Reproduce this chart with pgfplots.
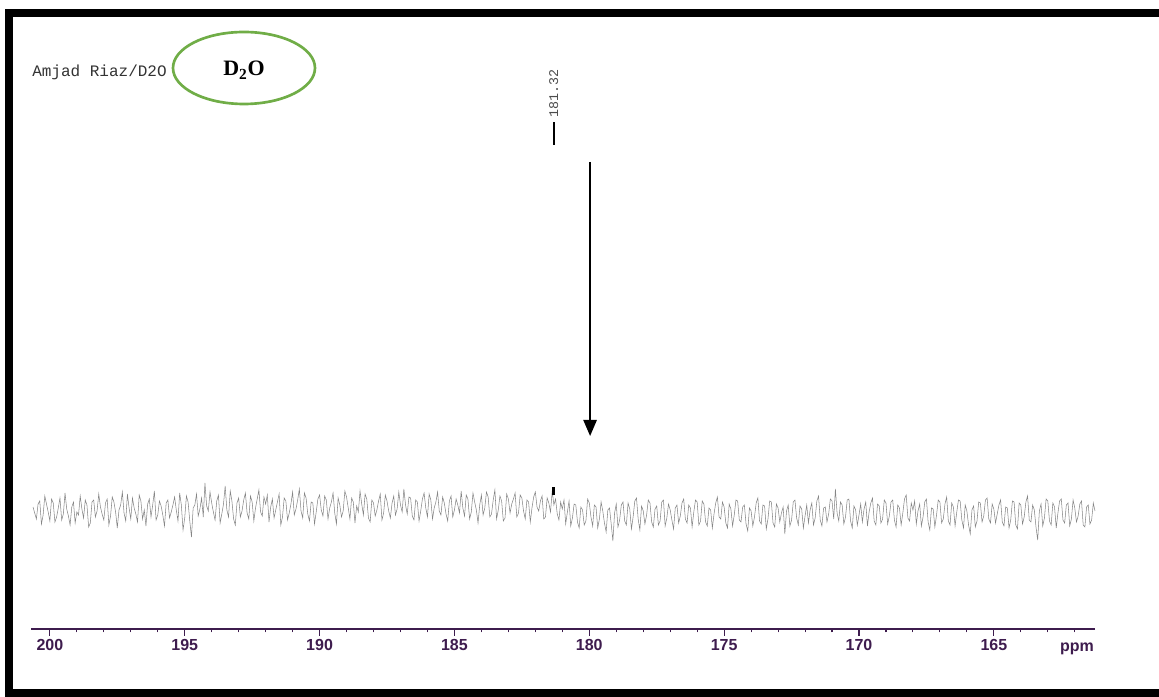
\documentclass[border=0pt]{standalone}
\usepackage{pgfplots}
\pgfplotsset{compat=1.18}
\usepackage{pgfplotstable}
\usetikzlibrary{arrows.meta}
\usepackage{fontspec}
\setmainfont{Liberation Serif}
\newfontfamily\arialf{Liberation Sans}
\newfontfamily\courf{Liberation Mono}
\definecolor{axpurple}{HTML}{3E1C4E}
\definecolor{ovalgreen}{HTML}{70AD47}
\definecolor{noisegray}{HTML}{858585}

% 13C noise trace, ppm vs. height above the scale line (px)
\pgfplotstableread[row sep=\\]{
x y\\
200.625 122\\ 200.5625 116\\ 200.5 110\\ 200.4375 125\\ 200.375 128\\ 200.3125 105\\ 200.25 114\\ 200.1875 133\\ 200.125 125\\ 200.0625 117\\ 200.0 108\\
199.9375 130\\ 199.875 126\\ 199.8125 107\\ 199.75 112\\ 199.6875 121\\ 199.625 131\\ 199.5625 109\\ 199.5 115\\ 199.4375 136\\ 199.375 120\\ 199.3125 113\\ 199.25 104\\ 199.1875 122\\ 199.125 127\\ 199.0625 106\\ 199.0 117\\
198.9375 114\\ 198.875 133\\ 198.8125 120\\ 198.75 111\\ 198.6875 129\\ 198.625 124\\ 198.5625 102\\ 198.5 106\\ 198.4375 127\\ 198.375 129\\ 198.3125 112\\ 198.25 118\\ 198.1875 135\\ 198.125 122\\ 198.0625 115\\ 198.0 109\\
197.9375 126\\ 197.875 130\\ 197.8125 104\\ 197.75 113\\ 197.6875 132\\ 197.625 127\\ 197.5625 117\\ 197.5 101\\ 197.4375 119\\ 197.375 124\\ 197.3125 137\\ 197.25 116\\ 197.1875 108\\ 197.125 135\\ 197.0625 121\\ 197.0 110\\
196.9375 131\\ 196.875 121\\ 196.8125 115\\ 196.75 107\\ 196.6875 134\\ 196.625 128\\ 196.5625 110\\ 196.5 119\\ 196.4375 103\\ 196.375 125\\ 196.3125 130\\ 196.25 112\\ 196.1875 124\\ 196.125 138\\ 196.0625 109\\ 196.0 114\\
195.9375 128\\ 195.875 123\\ 195.8125 114\\ 195.75 103\\ 195.6875 126\\ 195.625 129\\ 195.5625 111\\ 195.5 117\\ 195.4375 124\\ 195.375 132\\ 195.3125 119\\ 195.25 108\\ 195.1875 136\\ 195.125 124\\ 195.0625 99\\ 195.0 111\\
194.9375 133\\ 194.875 127\\ 194.8125 108\\ 194.75 92\\ 194.6875 121\\ 194.625 124\\ 194.5625 135\\ 194.5 113\\ 194.4375 120\\ 194.375 131\\ 194.3125 112\\ 194.25 146\\ 194.1875 123\\ 194.125 118\\ 194.0625 137\\ 194.0 126\\
193.9375 117\\ 193.875 109\\ 193.8125 128\\ 193.75 134\\ 193.6875 106\\ 193.625 115\\ 193.5625 125\\ 193.5 143\\ 193.4375 119\\ 193.375 112\\ 193.3125 138\\ 193.25 128\\ 193.1875 110\\ 193.125 104\\ 193.0625 126\\ 193.0 131\\
192.9375 112\\ 192.875 118\\ 192.8125 129\\ 192.75 136\\ 192.6875 116\\ 192.625 110\\ 192.5625 133\\ 192.5 127\\ 192.4375 108\\ 192.375 121\\ 192.3125 130\\ 192.25 139\\ 192.1875 117\\ 192.125 113\\ 192.0625 132\\ 192.0 125\\
191.9375 134\\ 191.875 107\\ 191.8125 122\\ 191.75 130\\ 191.6875 111\\ 191.625 119\\ 191.5625 127\\ 191.5 135\\ 191.4375 104\\ 191.375 112\\ 191.3125 131\\ 191.25 128\\ 191.1875 109\\ 191.125 116\\ 191.0625 125\\ 191.0 137\\
190.9375 114\\ 190.875 120\\ 190.8125 129\\ 190.75 140\\ 190.6875 118\\ 190.625 111\\ 190.5625 136\\ 190.5 131\\ 190.4375 115\\ 190.375 108\\ 190.3125 127\\ 190.25 126\\ 190.1875 105\\ 190.125 117\\ 190.0625 130\\ 190.0 134\\
189.9375 119\\ 189.875 113\\ 189.8125 133\\ 189.75 129\\ 189.6875 110\\ 189.625 121\\ 189.5625 127\\ 189.5 136\\ 189.4375 116\\ 189.375 105\\ 189.3125 131\\ 189.25 124\\ 189.1875 112\\ 189.125 118\\ 189.0625 138\\ 189.0 132\\
188.9375 121\\ 188.875 110\\ 188.8125 131\\ 188.75 127\\ 188.6875 106\\ 188.625 123\\ 188.5625 117\\ 188.5 138\\ 188.4375 125\\ 188.375 114\\ 188.3125 135\\ 188.25 130\\ 188.1875 111\\ 188.125 107\\ 188.0625 129\\ 188.0 126\\
187.9375 113\\ 187.875 119\\ 187.8125 128\\ 187.75 135\\ 187.6875 109\\ 187.625 116\\ 187.5625 134\\ 187.5 128\\ 187.4375 118\\ 187.375 111\\ 187.3125 126\\ 187.25 133\\ 187.1875 114\\ 187.125 120\\ 187.0625 137\\ 187.0 124\\
186.9375 117\\ 186.875 140\\ 186.8125 124\\ 186.75 115\\ 186.6875 132\\ 186.625 131\\ 186.5625 113\\ 186.5 109\\ 186.4375 129\\ 186.375 127\\ 186.3125 108\\ 186.25 118\\ 186.1875 130\\ 186.125 136\\ 186.0625 121\\ 186.0 112\\
185.9375 135\\ 185.875 129\\ 185.8125 110\\ 185.75 121\\ 185.6875 127\\ 185.625 137\\ 185.5625 118\\ 185.5 114\\ 185.4375 132\\ 185.375 126\\ 185.3125 115\\ 185.25 108\\ 185.1875 128\\ 185.125 133\\ 185.0625 112\\ 185.0 119\\
184.9375 130\\ 184.875 124\\ 184.8125 116\\ 184.75 138\\ 184.6875 121\\ 184.625 113\\ 184.5625 134\\ 184.5 130\\ 184.4375 110\\ 184.375 117\\ 184.3125 136\\ 184.25 127\\ 184.1875 119\\ 184.125 106\\ 184.0625 124\\ 184.0 134\\
183.9375 114\\ 183.875 121\\ 183.8125 137\\ 183.75 132\\ 183.6875 112\\ 183.625 115\\ 183.5625 129\\ 183.5 139\\ 183.4375 110\\ 183.375 119\\ 183.3125 133\\ 183.25 128\\ 183.1875 108\\ 183.125 111\\ 183.0625 135\\ 183.0 130\\
182.9375 116\\ 182.875 125\\ 182.8125 130\\ 182.75 136\\ 182.6875 112\\ 182.625 116\\ 182.5625 134\\ 182.5 131\\ 182.4375 118\\ 182.375 110\\ 182.3125 129\\ 182.25 127\\ 182.1875 107\\ 182.125 121\\ 182.0625 132\\ 182.0 137\\
181.9375 122\\ 181.875 118\\ 181.8125 128\\ 181.75 133\\ 181.6875 110\\ 181.625 112\\ 181.5625 131\\ 181.5 126\\ 181.4375 117\\ 181.375 138\\ 181.3125 124\\ 181.25 130\\ 181.1875 115\\ 181.125 109\\ 181.0625 127\\ 181.0 120\\
180.9375 129\\ 180.875 105\\ 180.8125 117\\ 180.75 128\\ 180.6875 103\\ 180.625 111\\ 180.5625 125\\ 180.5 124\\ 180.4375 107\\ 180.375 101\\ 180.3125 122\\ 180.25 119\\ 180.1875 104\\ 180.125 108\\ 180.0625 130\\ 180.0 126\\
179.9375 112\\ 179.875 103\\ 179.8125 124\\ 179.75 122\\ 179.6875 101\\ 179.625 110\\ 179.5625 127\\ 179.5 118\\ 179.4375 106\\ 179.375 97\\ 179.3125 119\\ 179.25 121\\ 179.1875 105\\ 179.125 88\\ 179.0625 116\\ 179.0 125\\
178.9375 102\\ 178.875 109\\ 178.8125 124\\ 178.75 127\\ 178.6875 108\\ 178.625 104\\ 178.5625 126\\ 178.5 120\\ 178.4375 100\\ 178.375 112\\ 178.3125 128\\ 178.25 131\\ 178.1875 110\\ 178.125 99\\ 178.0625 123\\ 178.0 118\\
177.9375 105\\ 177.875 114\\ 177.8125 129\\ 177.75 126\\ 177.6875 107\\ 177.625 102\\ 177.5625 120\\ 177.5 123\\ 177.4375 104\\ 177.375 108\\ 177.3125 127\\ 177.25 129\\ 177.1875 103\\ 177.125 111\\ 177.0625 125\\ 177.0 119\\
176.9375 109\\ 176.875 100\\ 176.8125 121\\ 176.75 124\\ 176.6875 106\\ 176.625 113\\ 176.5625 126\\ 176.5 130\\ 176.4375 110\\ 176.375 106\\ 176.3125 124\\ 176.25 121\\ 176.1875 102\\ 176.125 117\\ 176.0625 129\\ 176.0 127\\
175.9375 104\\ 175.875 108\\ 175.8125 128\\ 175.75 125\\ 175.6875 107\\ 175.625 103\\ 175.5625 121\\ 175.5 119\\ 175.4375 101\\ 175.375 115\\ 175.3125 126\\ 175.25 132\\ 175.1875 112\\ 175.125 110\\ 175.0625 127\\ 175.0 122\\
174.9375 106\\ 174.875 101\\ 174.8125 125\\ 174.75 120\\ 174.6875 103\\ 174.625 114\\ 174.5625 129\\ 174.5 128\\ 174.4375 109\\ 174.375 107\\ 174.3125 122\\ 174.25 124\\ 174.1875 105\\ 174.125 98\\ 174.0625 121\\ 174.0 118\\
173.9375 103\\ 173.875 112\\ 173.8125 126\\ 173.75 131\\ 173.6875 108\\ 173.625 105\\ 173.5625 124\\ 173.5 123\\ 173.4375 100\\ 173.375 110\\ 173.3125 128\\ 173.25 127\\ 173.1875 106\\ 173.125 102\\ 173.0625 125\\ 173.0 121\\
172.9375 107\\ 172.875 116\\ 172.8125 122\\ 172.75 95\\ 172.6875 118\\ 172.625 124\\ 172.5625 103\\ 172.5 109\\ 172.4375 127\\ 172.375 129\\ 172.3125 111\\ 172.25 104\\ 172.1875 123\\ 172.125 120\\ 172.0625 101\\ 172.0 113\\
171.9375 124\\ 171.875 106\\ 171.8125 119\\ 171.75 126\\ 171.6875 104\\ 171.625 111\\ 171.5625 128\\ 171.5 133\\ 171.4375 109\\ 171.375 103\\ 171.3125 121\\ 171.25 122\\ 171.1875 107\\ 171.125 115\\ 171.0625 130\\ 171.0 128\\
170.9375 110\\ 170.875 140\\ 170.8125 116\\ 170.75 108\\ 170.6875 127\\ 170.625 124\\ 170.5625 105\\ 170.5 112\\ 170.4375 129\\ 170.375 130\\ 170.3125 108\\ 170.25 101\\ 170.1875 123\\ 170.125 119\\ 170.0625 104\\ 170.0 114\\
169.9375 125\\ 169.875 107\\ 169.8125 120\\ 169.75 127\\ 169.6875 103\\ 169.625 117\\ 169.5625 126\\ 169.5 131\\ 169.4375 108\\ 169.375 104\\ 169.3125 125\\ 169.25 123\\ 169.1875 106\\ 169.125 110\\ 169.0625 129\\ 169.0 126\\
168.9375 105\\ 168.875 113\\ 168.8125 127\\ 168.75 129\\ 168.6875 109\\ 168.625 102\\ 168.5625 124\\ 168.5 121\\ 168.4375 104\\ 168.375 116\\ 168.3125 130\\ 168.25 134\\ 168.1875 111\\ 168.125 108\\ 168.0625 126\\ 168.0 119\\
167.9375 128\\ 167.875 105\\ 167.8125 118\\ 167.75 125\\ 167.6875 103\\ 167.625 112\\ 167.5625 127\\ 167.5 130\\ 167.4375 107\\ 167.375 99\\ 167.3125 121\\ 167.25 120\\ 167.1875 102\\ 167.125 114\\ 167.0625 129\\ 167.0 127\\
166.9375 106\\ 166.875 110\\ 166.8125 125\\ 166.75 132\\ 166.6875 108\\ 166.625 104\\ 166.5625 126\\ 166.5 122\\ 166.4375 103\\ 166.375 117\\ 166.3125 129\\ 166.25 128\\ 166.1875 109\\ 166.125 101\\ 166.0625 124\\ 166.0 118\\
165.9375 104\\ 165.875 95\\ 165.8125 119\\ 165.75 123\\ 165.6875 102\\ 165.625 108\\ 165.5625 127\\ 165.5 126\\ 165.4375 107\\ 165.375 113\\ 165.3125 129\\ 165.25 131\\ 165.1875 110\\ 165.125 106\\ 165.0625 125\\ 165.0 120\\
164.9375 106\\ 164.875 115\\ 164.8125 124\\ 164.75 129\\ 164.6875 107\\ 164.625 103\\ 164.5625 122\\ 164.5 121\\ 164.4375 101\\ 164.375 109\\ 164.3125 128\\ 164.25 127\\ 164.1875 104\\ 164.125 100\\ 164.0625 126\\ 164.0 124\\
163.9375 105\\ 163.875 112\\ 163.8125 127\\ 163.75 133\\ 163.6875 109\\ 163.625 107\\ 163.5625 124\\ 163.5 119\\ 163.4375 102\\ 163.375 89\\ 163.3125 118\\ 163.25 125\\ 163.1875 103\\ 163.125 111\\ 163.0625 130\\ 163.0 128\\
162.9375 108\\ 162.875 104\\ 162.8125 126\\ 162.75 122\\ 162.6875 101\\ 162.625 116\\ 162.5625 128\\ 162.5 130\\ 162.4375 109\\ 162.375 106\\ 162.3125 124\\ 162.25 126\\ 162.1875 103\\ 162.125 110\\ 162.0625 129\\ 162.0 121\\
161.9375 107\\ 161.875 113\\ 161.8125 125\\ 161.75 128\\ 161.6875 104\\ 161.625 102\\ 161.5625 122\\ 161.5 124\\ 161.4375 105\\ 161.375 109\\ 161.3125 126\\ 161.25 118\\
}\noise

\begin{document}
\begin{tikzpicture}[x=0.75pt,y=0.75pt]
\useasboundingbox (0,0) rectangle (1159,696);
% page frame (right edge cut off)
\draw[line width=6pt] (9,3) rectangle (1185,683);
\node[font=\courf\fontsize{12}{12}\selectfont, text=black!80, anchor=west, inner sep=0pt] at (32,624) {Amjad Riaz/D2O};
\draw[ovalgreen, line width=2pt] (244,628) ellipse [x radius=71, y radius=36];
\node[font=\bfseries\fontsize{16.5}{16.5}\selectfont] at (244,626) {D\textsubscript{2}O};
\begin{axis}[
    at={(23.25pt,50.25pt)}, anchor=south west,
    scale only axis, width=798pt, height=450pt,
    x dir=reverse, xmin=161.25, xmax=200.7,
    ymin=0, ymax=600,
    axis x line=bottom, axis y line=none,
    x axis line style={-, axpurple, line width=1.1pt},
    xtick={165,170,...,200}, minor xtick={162,...,200},
    tick align=outside,
    major tick length=5pt, minor tick length=2.5pt,
    every tick/.style={axpurple, line width=0.8pt},
    xticklabel style={font=\arialf\bfseries\fontsize{12}{12}\selectfont, text=axpurple, anchor=base, yshift=-11.25pt},
    /pgf/number format/assume math mode=true,
    clip=false,
]
\addplot[noisegray, line width=0.4pt] table {\noise};
% peak at 181.32
\addplot[black, line width=2pt] coordinates {(181.32,134) (181.32,142)};
\addplot[black, line width=1.5pt] coordinates {(181.32,484) (181.32,507)};
\node[font=\courf\fontsize{10}{10}\selectfont, text=black!70, rotate=90, anchor=west, inner sep=0pt] at (axis cs:181.32,511) {181.32};
\draw[black, line width=1.1pt, -{Triangle[length=12pt,width=10pt]}] (axis cs:179.97,467) -- (axis cs:179.97,193);
\node[font=\arialf\bfseries\fontsize{12}{12}\selectfont, text=axpurple, anchor=base] at ([yshift=-16.5pt]axis cs:161.92,0) {ppm};
\end{axis}
\end{tikzpicture}
\end{document}
